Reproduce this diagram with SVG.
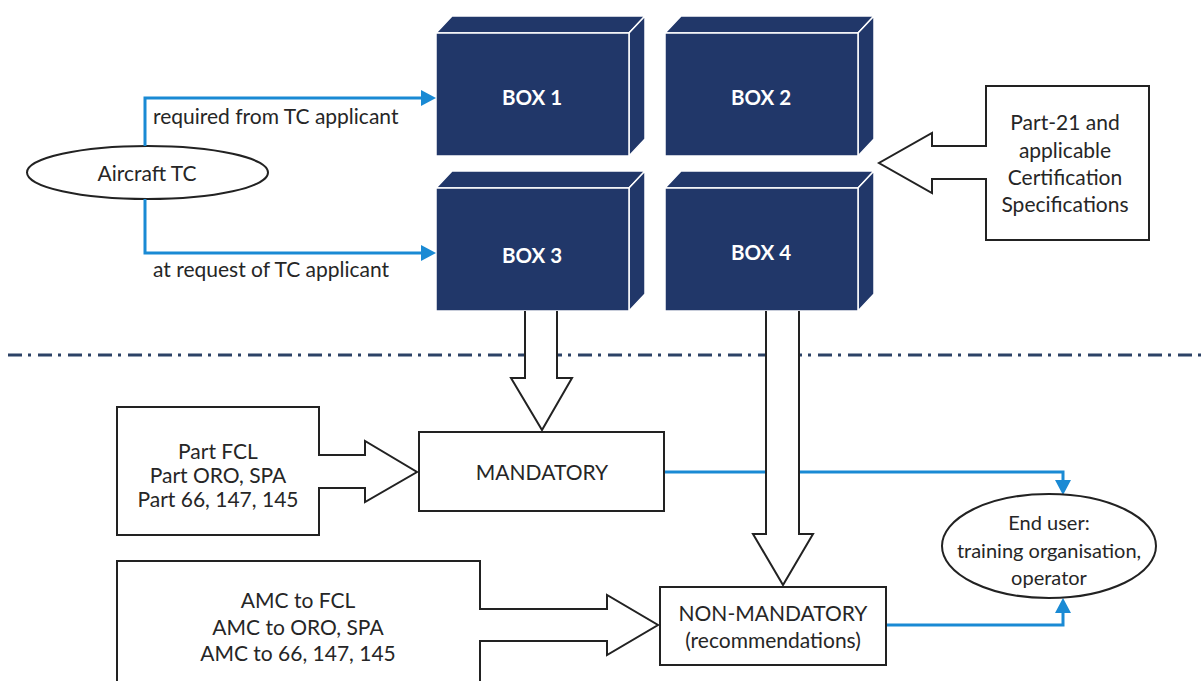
<svg xmlns="http://www.w3.org/2000/svg" width="1201" height="681" viewBox="0 0 1201 681">
  <style>
    .navy { fill: #213769; stroke: #ffffff; stroke-width: 1.5; stroke-linejoin: round; }
    .boxlabel { font-family: Lato, "Liberation Sans", sans-serif; font-weight: bold; font-size: 20.5px; fill: #ffffff; text-anchor: middle; dominant-baseline: central; }
    .t { font-family: Lato, "Liberation Sans", sans-serif; font-size: 21px; fill: #262626; text-anchor: middle; dominant-baseline: central; }
    .tl { font-family: Lato, "Liberation Sans", sans-serif; font-size: 21px; fill: #262626; text-anchor: start; dominant-baseline: central; }
    .outline { fill: #ffffff; stroke: #222222; stroke-width: 2; stroke-linejoin: miter; }
    .blue { fill: none; stroke: #1a8ad4; stroke-width: 3; }
    .dashdot { fill: none; stroke: #2c4266; stroke-width: 3; stroke-dasharray: 14 6 3 7; }
  </style>
  <defs>
    <marker id="bluehead" markerUnits="userSpaceOnUse" markerWidth="15" markerHeight="16" refX="7" refY="8" orient="auto">
      <path d="M0,0 L15,8 L0,16 Z" fill="#1a8ad4"/>
    </marker>
  </defs>

  <rect width="1201" height="681" fill="#ffffff"/>

  <g id="separator">
    <line class="dashdot" x1="8" y1="355" x2="1201" y2="355"/>
  </g>

  <g id="box1">
    <polygon class="navy" points="436,33 452,16 645,16 629,33"/>
    <polygon class="navy" points="629,33 645,16 645,139 629,156"/>
    <rect class="navy" x="436" y="33" width="193" height="123"/>
    <text class="boxlabel" x="532" y="97">BOX 1</text>
  </g>
  <g id="box2">
    <polygon class="navy" points="665,33 681,16 874,16 858,33"/>
    <polygon class="navy" points="858,33 874,16 874,139 858,156"/>
    <rect class="navy" x="665" y="33" width="193" height="123"/>
    <text class="boxlabel" x="761" y="97">BOX 2</text>
  </g>
  <g id="box3">
    <polygon class="navy" points="436,188 452,171 645,171 629,188"/>
    <polygon class="navy" points="629,188 645,171 645,294 629,311"/>
    <rect class="navy" x="436" y="188" width="193" height="123"/>
    <text class="boxlabel" x="532" y="255">BOX 3</text>
  </g>
  <g id="box4">
    <polygon class="navy" points="665,188 681,171 874,171 858,188"/>
    <polygon class="navy" points="858,188 874,171 874,294 858,311"/>
    <rect class="navy" x="665" y="188" width="193" height="123"/>
    <text class="boxlabel" x="761" y="252">BOX 4</text>
  </g>

  <g id="aircraft-tc">
    <ellipse cx="147.5" cy="172.5" rx="120.5" ry="26.5" fill="#ffffff" stroke="#222222" stroke-width="2"/>
    <text class="t" x="147" y="172">Aircraft TC</text>
  </g>

  <g id="part21">
    <path class="outline" d="M986,86 H1149 V240 H986 V179 H932 V193 L879,163 L932,133 V146 H986 Z"/>
    <text class="t" x="1065" y="121">Part-21 and</text>
    <text class="t" x="1065" y="149">applicable</text>
    <text class="t" x="1065" y="176">Certification</text>
    <text class="t" x="1065" y="203">Specifications</text>
  </g>

  <g id="connectors">
    <path class="blue" d="M145,146 V98 H428" marker-end="url(#bluehead)"/>
    <path class="blue" d="M145,199 V253 H428" marker-end="url(#bluehead)"/>
    <path class="blue" d="M664,472 H1063 V487" marker-end="url(#bluehead)"/>
    <path class="blue" d="M886,625 H1063 V606" marker-end="url(#bluehead)"/>
    <path class="outline" d="M525,311 V378 H511 L542,430 L572,378 H557 V311"/>
    <path class="outline" d="M766,311 V534 H753 L783,585 L813,534 H799 V311"/>
  </g>

  <g id="text-labels">
    <text class="tl" x="153" y="115">required from TC applicant</text>
    <text class="tl" x="153" y="268">at request of TC applicant</text>
  </g>

  <g id="part-fcl">
    <path class="outline" d="M117,407 H319 V455 H365 V441 L417,472 L365,502 V488 H319 V535 H117 Z"/>
    <text class="t" x="218" y="450">Part FCL</text>
    <text class="t" x="218" y="474">Part ORO, SPA</text>
    <text class="t" x="218" y="498">Part 66, 147, 145</text>
  </g>

  <g id="mandatory">
    <rect class="outline" x="419" y="432" width="245" height="79"/>
    <text class="t" x="542" y="471">MANDATORY</text>
  </g>

  <g id="amc">
    <path class="outline" d="M117,690 V561 H480 V609 H607 V595 L658,625 L607,655 V641 H480 V690"/>
    <text class="t" x="298" y="599">AMC to FCL</text>
    <text class="t" x="298" y="626">AMC to ORO, SPA</text>
    <text class="t" x="298" y="652">AMC to 66, 147, 145</text>
  </g>

  <g id="non-mandatory">
    <rect class="outline" x="660" y="587" width="226" height="78"/>
    <text class="t" x="773" y="612">NON-MANDATORY</text>
    <text class="t" x="773" y="639">(recommendations)</text>
  </g>

  <g id="end-user">
    <ellipse cx="1049" cy="546" rx="107" ry="52" fill="#ffffff" stroke="#222222" stroke-width="2"/>
    <text class="t" x="1049" y="522" style="font-size:20px">End user:</text>
    <text class="t" x="1049" y="550" style="font-size:20px">training organisation,</text>
    <text class="t" x="1049" y="577" style="font-size:20px">operator</text>
  </g>
</svg>
